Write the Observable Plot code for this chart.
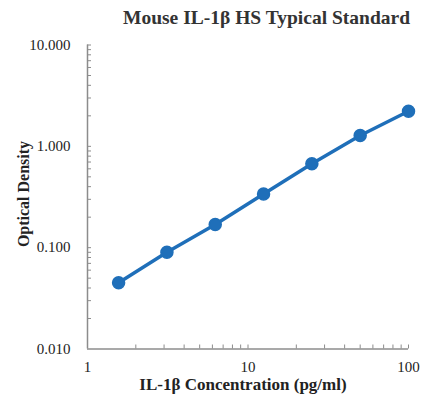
<!DOCTYPE html>
<html>
<head>
<meta charset="utf-8">
<script src="https://cdn.jsdelivr.net/npm/d3@7"></script>
<script src="https://cdn.jsdelivr.net/npm/@observablehq/plot@0.6"></script>
<style>
  html, body { margin: 0; padding: 0; background: #fff; }
  #chart { width: 421px; height: 410px; }
</style>
</head>
<body>
<div id="chart"></div>
<script>
const title = "Mouse IL-1β HS Typical Standard";
const xLabel = "IL-1β Concentration (pg/ml)";
const yLabel = "Optical Density";
const concentration = [1.5625, 3.125, 6.25, 12.5, 25, 50, 100];
const opticalDensity = [0.045, 0.090, 0.169, 0.338, 0.672, 1.28, 2.22];
const xTickLabels = [1, 10, 100];
const yTickLabels = [0.01, 0.1, 1, 10];

const data = concentration.map((c, i) => ({c, od: opticalDensity[i]}));
const minor = (lo, hi) => {
  const out = [];
  for (let d = lo; d < hi; d *= 10) for (let k = 1; k <= 9; k++) out.push(+(d * k).toPrecision(3));
  out.push(hi);
  return out;
};
const xMinor = minor(1, 100).filter(v => v > 1);
const yMinor = minor(0.01, 10).filter(v => v > 0.01);

const blue = "#1f6fb9";
const gray = "#8c8c8c";
const serif = "'Liberation Serif', 'Times New Roman', serif";

const chart = Plot.plot({
  width: 421,
  height: 410,
  marginLeft: 87,
  marginRight: 13,
  marginTop: 44.5,
  marginBottom: 61.5,
  style: {fontFamily: serif, fontSize: "15px", color: "#222", background: "#fff"},
  x: {type: "log", domain: [1, 100], axis: null},
  y: {type: "log", domain: [0.01, 10], axis: null},
  marks: [
    Plot.axisX(xMinor, {tickSize: -4, text: null, stroke: gray, strokeWidth: 1, label: null}),
    Plot.axisY(yMinor, {tickSize: -4, text: null, stroke: gray, strokeWidth: 1, label: null}),
    Plot.text(xTickLabels, {x: d => d, frameAnchor: "bottom", lineAnchor: "middle", dy: 18.5, text: d3.format("d"), fontSize: 15, fill: "#222", fontFamily: serif}),
    Plot.text(yTickLabels, {y: d => d, frameAnchor: "left", textAnchor: "end", lineAnchor: "middle", dx: -17, text: d3.format(".3f"), fontSize: 15, fill: "#222", fontFamily: serif}),
    Plot.ruleX([1], {stroke: gray, strokeWidth: 1.5}),
    Plot.ruleY([0.01], {stroke: gray, strokeWidth: 1.5}),
    Plot.line(data, {x: "c", y: "od", stroke: blue, strokeWidth: 3.5}),
    Plot.dot(data, {x: "c", y: "od", r: 6, fill: blue, stroke: blue}),
    Plot.text([title], {frameAnchor: "top", lineAnchor: "middle", textAnchor: "middle", dx: 18.5, dy: -27.5, text: d => d, fontSize: 19.5, fontWeight: "bold", fill: "#333", fontFamily: serif}),
    Plot.text([xLabel], {frameAnchor: "bottom", lineAnchor: "middle", textAnchor: "middle", dx: -5, dy: 35.5, text: d => d, fontSize: 17, fontWeight: "bold", fill: "#222", fontFamily: serif}),
    Plot.text([yLabel], {frameAnchor: "left", lineAnchor: "middle", textAnchor: "middle", dx: -64, dy: -3, rotate: -90, text: d => d, fontSize: 16, fontWeight: "bold", fill: "#222", fontFamily: serif})
  ]
});
document.getElementById("chart").appendChild(chart);
</script>
</body>
</html>
